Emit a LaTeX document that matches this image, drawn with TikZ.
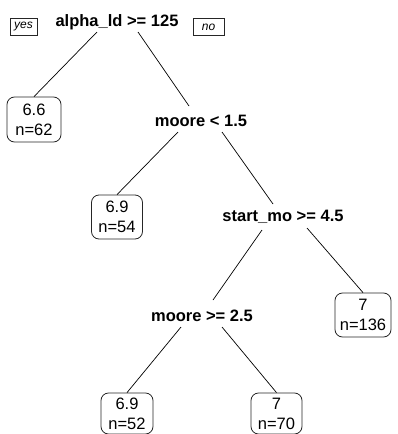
\documentclass[tikz,border=0pt]{standalone}
\usepackage{fontspec}
\setmainfont{Liberation Sans}
\begin{document}
\begin{tikzpicture}[x=1pt,y=-1pt,
  splitlab/.style={font=\fontsize{16.5}{19}\selectfont\bfseries, inner sep=0pt, anchor=base},
  leafbox/.style={draw=black!85, line width=0.8pt, rounded corners=7.5pt,
    font=\fontsize{16.5}{20}\selectfont, align=center, inner sep=0pt,
    minimum height=#1},
  leafbox/.default=45pt,
  dirbox/.style={draw=black!85, line width=0.6pt, font=\fontsize{12}{14}\selectfont\itshape,
    inner sep=0pt, minimum height=17pt},
  branch/.style={line width=0.7pt, black}]
\useasboundingbox (0,0) rectangle (397,434);

% split labels
\node[splitlab] (root) at (117,26) {alpha\_ld >= 125};
\node[splitlab] (s2) at (201,126.5) {moore < 1.5};
\node[splitlab] (s3) at (283,221.5) {start\_mo >= 4.5};
\node[splitlab] (s4) at (202,321.5) {moore >= 2.5};

% yes / no tags beside the root
\node[dirbox, minimum width=27pt] (yes) at (23.5,26.5) {yes};
\node[dirbox, minimum width=31pt] (no) at (208.5,27) {no};

% leaves
\node[leafbox, minimum width=54pt] (L1) at (34,119.5) {6.6\\n=62};
\node[leafbox=44pt, minimum width=51pt] (L2) at (117,217) {6.9\\n=54};
\node[leafbox=44pt, minimum width=56pt] (L3) at (363,315) {7\\n=136};
\node[leafbox=41pt, minimum width=52pt] (L4) at (127,413.5) {6.9\\n=52};
\node[leafbox=41pt, minimum width=51pt] (L5) at (276.5,413.5) {7\\n=70};

% branch end points beneath / above the split labels
\coordinate (r-l) at (97,32);
\coordinate (r-r) at (138,32);
\coordinate (s2-in) at (189,106);
\coordinate (s2-l) at (178,132);
\coordinate (s2-r) at (222,132);
\coordinate (s3-in) at (273,204);
\coordinate (s3-l) at (262,230);
\coordinate (s3-r) at (307,228);
\coordinate (s4-in) at (213,300);
\coordinate (s4-l) at (181,327);
\coordinate (s4-r) at (222,327);

% branches
\draw[branch] (r-l) -- (L1.north);
\draw[branch] (r-r) -- (s2-in);
\draw[branch] (s2-l) -- (L2.north);
\draw[branch] (s2-r) -- (s3-in);
\draw[branch] (s3-l) -- (s4-in);
\draw[branch] (s3-r) -- (L3.north);
\draw[branch] (s4-l) -- (L4.north);
\draw[branch] (s4-r) -- (L5.north);
\end{tikzpicture}
\end{document}
